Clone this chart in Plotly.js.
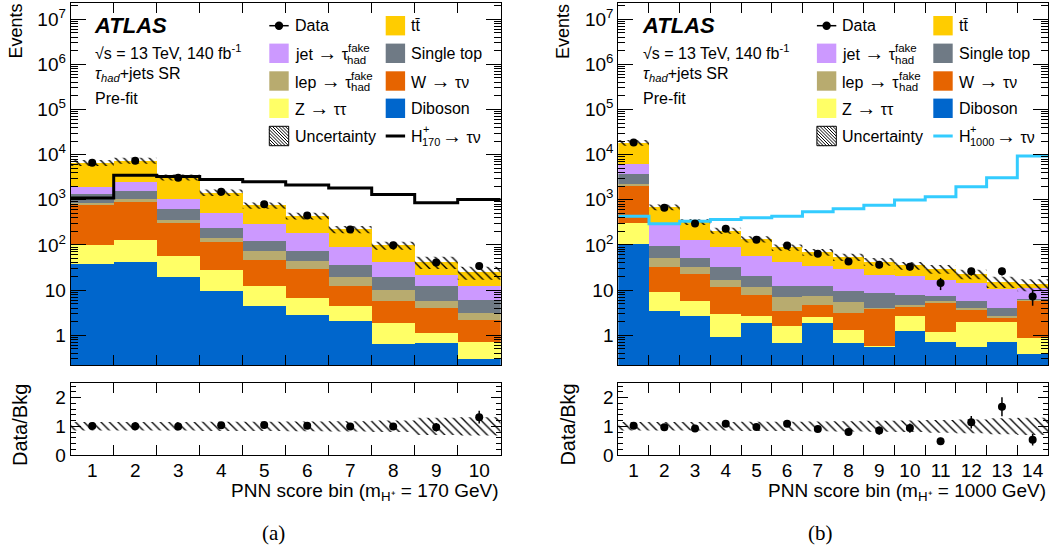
<!DOCTYPE html>
<html><head><meta charset="utf-8">
<script src="https://cdn.plot.ly/plotly-3.0.1.min.js"></script>
<style>body{margin:0;background:#fff}#chart{width:1059px;height:552px}</style>
</head><body><div id="chart"></div>
<script>
// ---------- Panel (a): m_H+ = 170 GeV ----------
const binsA = [1,2,3,4,5,6,7,8,9,10];
const dibosonA = [37.8, 42, 19.1, 9.7, 4.33, 2.83, 2.05, 0.63, 0.675, 0.293];
const zttA     = [64, 89, 39, 18.1, 8.2, 4.0, 2.44, 1.28, 0.44, 0.43];
const wtnA     = [658, 772, 250, 87, 33, 22.4, 8.0, 3.9, 2.87, 1.4];
const lepA     = [70, 114, 51, 31, 26.7, 15.6, 6.9, 4.4, 1.62, 0.96];
const stopA    = [530, 568, 251, 97, 48.7, 28.7, 16.5, 8.9, 6.5, 3.0];
const jetA     = [590, 845, 440, 271, 172, 111, 52.8, 22.8, 9.8, 6.4];
const ttbarA   = [4650, 4970, 2100, 936, 462, 255, 133, 56, 20, 12.5];
const dataA    = [6640, 7360, 3085, 1506, 801, 449, 219, 98, 41, 34];
const dataErrA = [81, 86, 56, 39, 28, 21, 15, 10, 6.4, 5.8];
const signalA  = [1100, 3500, 3300, 2830, 2510, 2120, 1820, 1310, 860, 1020];
const ratioA    = [1.01, 1.0, 0.99, 1.04, 1.05, 1.02, 0.99, 0.99, 0.97, 1.32];
const ratioErrA = [0.013, 0.012, 0.018, 0.027, 0.036, 0.05, 0.07, 0.1, 0.15, 0.22];
const uncA      = [0.15, 0.15, 0.15, 0.16, 0.16, 0.17, 0.18, 0.2, 0.3, 0.32];

// ---------- Panel (b): m_H+ = 1000 GeV ----------
const binsB = [1,2,3,4,5,6,7,8,9,10,11,12,13,14];
const dibosonB = [103, 3.36, 2.6, 0.9, 1.91, 0.66, 1.82, 0.66, 0.56, 1.25, 0.72, 0.54, 0.69, 0.38];
const zttB     = [211, 5.5, 3.0, 2.0, 0.78, 0.9, 0.75, 0.65, 0.02, 1.35, 0.48, 1.47, 1.32, 0.48];
const wtnB     = [1740, 23, 17.1, 8.8, 5.2, 1.8, 2.1, 1.77, 3.2, 1.6, 3.94, 1.65, 0.38, 4.9];
const lepB     = [225, 18.7, 9.2, 5.3, 3.8, 3.5, 2.9, 2.5, 0.2, 0.53, 0.46, 0.32, 0.21, 0.15];
const stopB    = [1540, 42.8, 20.4, 14.9, 9.1, 5.6, 4.5, 4.2, 4.6, 3.15, 1.9, 1.62, 1.38, 0.3];
const jetB     = [2250, 200, 79, 58.4, 37.2, 30.1, 22.6, 19.5, 13.3, 12.2, 9.5, 8.7, 6.5, 5.1];
const ttbarB   = [12400, 395, 193, 118, 76, 46, 35, 24.7, 21, 15, 12.5, 8.5, 5, 2.1];
const dataB    = [18500, 664, 298, 227, 131, 97, 64, 43, 36.6, 33, 14.3, 26, 26, 7.2];
const dataErrB = [136, 26, 17, 15, 11.4, 9.8, 8, 6.6, 6, 5.7, 4.3, 5.1, 5.1, 2.7];
const signalB  = [433, 293, 336, 365, 398, 433, 541, 631, 761, 984, 1167, 1945, 3084, 9333];
const ratioB    = [1.02, 0.965, 0.92, 1.09, 0.98, 1.09, 0.91, 0.8, 0.85, 0.94, 0.48, 1.14, 1.68, 0.53];
const ratioErrB = [0.01, 0.04, 0.05, 0.07, 0.08, 0.11, 0.11, 0.12, 0.14, 0.16, 0.12, 0.22, 0.33, 0.2];
const uncB      = [0.15, 0.15, 0.15, 0.15, 0.16, 0.16, 0.17, 0.18, 0.19, 0.2, 0.22, 0.24, 0.28, 0.3];

// ---------- labels ----------
const yTickVals = [1, 10, 100, 1e3, 1e4, 1e5, 1e6, 1e7];
const yTickText = ['1', '10', '10<sup>2</sup>', '10<sup>3</sup>', '10<sup>4</sup>', '10<sup>5</sup>', '10<sup>6</sup>', '10<sup>7</sup>'];
const ratioTickVals = [0, 1, 2];
const colors = {
  ttbar: '#FFCC00', jet: '#CC99FF', stop: '#6F7A85', lep: '#B8AB6F',
  wtn: '#E66400', ztt: '#FFFF66', diboson: '#0066CC'
};

const FONT = 'Liberation Sans, Arial, Helvetica, sans-serif';
const ARR = "<span style='font-size:20px'>→</span>";
const W = 1059, H = 552;
const px = x => x / W;
const py = y => 1 - y / H;

function stepY(arr) { return arr.concat([arr[arr.length - 1]]); }

const traces = [];
function panel(bins, comps, data, dataErr, signal, sigColor, ratio, ratioErr, unc, xm, ym, xr, yr) {
  const edges = [bins[0] - 0.5].concat(bins.map(b => b + 0.5));
  comps.forEach(c => {
    traces.push({type: 'bar', x: bins, y: c.vals, xaxis: xm, yaxis: ym, width: 1,
      marker: {color: c.color, line: {width: 0}}, hoverinfo: 'skip', showlegend: false});
  });
  const total = bins.map((_, i) => comps.reduce((s, c) => s + c.vals[i], 0));
  const lo = total.map((t, i) => t * (1 - unc[i]));
  const hi = total.map((t, i) => t * (1 + unc[i]));
  const pat = {shape: '\\', fgcolor: '#000', bgcolor: 'rgba(0,0,0,0)', size: 6, solidity: 0.22};
  traces.push({type: 'scatter', mode: 'lines', x: edges, y: stepY(lo), xaxis: xm, yaxis: ym,
    line: {width: 0, shape: 'hv'}, hoverinfo: 'skip', showlegend: false});
  traces.push({type: 'scatter', mode: 'lines', x: edges, y: stepY(hi), xaxis: xm, yaxis: ym,
    line: {width: 0, shape: 'hv'}, fill: 'tonexty', fillcolor: 'rgba(0,0,0,0)', fillpattern: pat,
    hoverinfo: 'skip', showlegend: false});
  traces.push({type: 'scatter', mode: 'lines', x: edges, y: stepY(signal), xaxis: xm, yaxis: ym,
    line: {width: 3, shape: 'hv', color: sigColor}, hoverinfo: 'skip', showlegend: false});
  traces.push({type: 'scatter', mode: 'markers', x: bins, y: data, xaxis: xm, yaxis: ym,
    marker: {color: '#000', size: 8},
    error_y: {type: 'data', array: dataErr, color: '#000', thickness: 1.5, width: 0},
    hoverinfo: 'skip', showlegend: false});
  // ratio panel
  const rlo = unc.map(u => 1 - u), rhi = unc.map(u => 1 + u);
  traces.push({type: 'scatter', mode: 'lines', x: edges, y: stepY(rlo), xaxis: xr, yaxis: yr,
    line: {width: 0, shape: 'hv'}, hoverinfo: 'skip', showlegend: false});
  traces.push({type: 'scatter', mode: 'lines', x: edges, y: stepY(rhi), xaxis: xr, yaxis: yr,
    line: {width: 0, shape: 'hv'}, fill: 'tonexty', fillcolor: 'rgba(0,0,0,0)', fillpattern: pat,
    hoverinfo: 'skip', showlegend: false});
  traces.push({type: 'scatter', mode: 'markers', x: bins, y: ratio, xaxis: xr, yaxis: yr,
    marker: {color: '#000', size: 8},
    error_y: {type: 'data', array: ratioErr, color: '#000', thickness: 1.5, width: 0},
    hoverinfo: 'skip', showlegend: false});
}

function compsOf(d, z, w, l, s, j, t) {
  return [
    {vals: d, color: colors.diboson}, {vals: z, color: colors.ztt}, {vals: w, color: colors.wtn},
    {vals: l, color: colors.lep}, {vals: s, color: colors.stop}, {vals: j, color: colors.jet},
    {vals: t, color: colors.ttbar}
  ];
}

panel(binsA, compsOf(dibosonA, zttA, wtnA, lepA, stopA, jetA, ttbarA), dataA, dataErrA, signalA, '#000000',
      ratioA, ratioErrA, uncA, 'x', 'y', 'x2', 'y2');
panel(binsB, compsOf(dibosonB, zttB, wtnB, lepB, stopB, jetB, ttbarB), dataB, dataErrB, signalB, '#33CCFF',
      ratioB, ratioErrB, uncB, 'x3', 'y3', 'x4', 'y4');

// ---------- axes ----------
const minorLog = [];
for (let d = -1; d <= 7; d++) for (let k = 2; k <= 9; k++) minorLog.push(k * Math.pow(10, d));
const minorRatio = [0.2, 0.4, 0.6, 0.8, 1.2, 1.4, 1.6, 1.8, 2.2, 2.4];

const axBase = {showline: true, linecolor: '#000', linewidth: 1, mirror: 'ticks', ticks: 'inside',
  tickcolor: '#000', tickwidth: 1, showgrid: false, zeroline: false, fixedrange: true,
  tickfont: {family: FONT, size: 19, color: '#000'}};
const mainDom = [py(365), py(3)];
const ratDom = [py(455), py(383.3)];
function xMain(bins, dom, anchor) {
  const inner = bins.slice(0, -1).map(b => b + 0.5);
  return Object.assign({}, axBase, {domain: dom, range: [0.5, bins.length + 0.5], tickvals: inner,
    ticklen: 10, showticklabels: false, anchor: anchor});
}
function xRatio(bins, dom, anchor) {
  const inner = bins.slice(0, -1).map(b => b + 0.5);
  return Object.assign({}, axBase, {domain: dom, range: [0.5, bins.length + 0.5], tickvals: bins,
    ticktext: bins.map(String), ticklen: 0, ticklabelstandoff: -2,
    minor: {tickvals: inner, ticklen: 10, ticks: 'inside', tickcolor: '#000', tickwidth: 1},
    anchor: anchor});
}
function yMain(anchor) {
  return Object.assign({}, axBase, {domain: mainDom, type: 'log', range: [-0.66, 7.36],
    tickvals: yTickVals, ticktext: yTickText, ticklen: 15,
    minor: {tickvals: minorLog, ticklen: 7, ticks: 'inside', tickcolor: '#000', tickwidth: 1},
    anchor: anchor});
}
function yRatio(anchor) {
  return Object.assign({}, axBase, {domain: ratDom, range: [0, 2.5], tickvals: ratioTickVals,
    ticktext: ratioTickVals.map(String), ticklen: 10,
    minor: {tickvals: minorRatio, ticklen: 5, ticks: 'inside', tickcolor: '#000', tickwidth: 1},
    anchor: anchor});
}
const domA = [px(70.7), px(500.7)];
const domB = [px(618.3), px(1048)];

// ---------- legend / text ----------
const annotations = [];
const shapes = [];
function ann(x, y, text, size, extra) {
  annotations.push(Object.assign({xref: 'paper', yref: 'paper', x: px(x), y: py(y), text: text,
    showarrow: false, xanchor: 'left', yanchor: 'middle',
    font: {family: FONT, size: size, color: '#000'}}, extra || {}));
}
function rect(x0, y0, x1, y1, fill, lineW) {
  shapes.push({type: 'rect', xref: 'paper', yref: 'paper', x0: px(x0), x1: px(x1), y0: py(y1), y1: py(y0),
    fillcolor: fill, line: {width: lineW || 0, color: '#000'}});
}
function lineSh(x0, y0, x1, y1, color, w) {
  shapes.push({type: 'line', xref: 'paper', yref: 'paper', x0: px(x0), x1: px(x1), y0: py(y0), y1: py(y1),
    line: {color: color, width: w}});
}

function decorate(dx, sigLabel, sigColor, arrowX, caption, xTitle) {
  // axis titles
  ann(15 + dx, 2, 'Events', 18, {textangle: -90, xanchor: 'center', yanchor: 'top'});
  ann(20 + dx, 425, 'Data/Bkg', 20, {textangle: -90, xanchor: 'center', yanchor: 'middle'});
  ann(500.7 + dx, 492, xTitle, 19, {xanchor: 'right'});
  ann(273 + dx, 533, caption, 21, {xanchor: 'center', font: {family: 'Liberation Serif, Times New Roman, serif', size: 21, color: '#000'}});
  // ATLAS block
  ann(92 + dx, 25.7, '<b><i>ATLAS</i></b>', 22);
  ann(93 + dx, 51.7, '√s = 13 TeV, 140 fb<sup>-1</sup>', 16);
  ann(93 + dx, 74, '<i>τ</i><sub><i>had</i></sub>+jets SR', 16);
  ann(93 + dx, 98.3, 'Pre-fit', 16);
  // legend column 1
  const c1 = 269.3 + dx, c2 = 385.7 + dx, sw = 19.4, t1 = 292.7 + dx, t2 = 409 + dx;
  const rows = [25.7, 53.3, 81, 108.3, 136];
  lineSh(c1, rows[0], c1 + sw, rows[0], '#000', 1.5);
  shapes.push({type: 'circle', xref: 'paper', yref: 'paper', x0: px(c1 + sw / 2 - 4.2), x1: px(c1 + sw / 2 + 4.2),
    y0: py(rows[0] + 4.2), y1: py(rows[0] - 4.2), fillcolor: '#000', line: {width: 0}});
  ann(t1, rows[0], 'Data', 16);
  rect(c1, rows[1] - sw / 2, c1 + sw, rows[1] + sw / 2, colors.jet);
  ann(t1, rows[1], 'jet ' + ARR + ' τ', 16);
  ann(t1 + 53, rows[1] - 5.5, 'fake', 11.5);
  ann(t1 + 52.5, rows[1] + 6.5, 'had', 11.5);
  rect(c1, rows[2] - sw / 2, c1 + sw, rows[2] + sw / 2, colors.lep);
  ann(t1, rows[2], 'lep ' + ARR + ' τ', 16);
  ann(t1 + 56.5, rows[2] - 5.5, 'fake', 11.5);
  ann(t1 + 56.5, rows[2] + 6.5, 'had', 11.5);
  rect(c1, rows[3] - sw / 2, c1 + sw, rows[3] + sw / 2, colors.ztt);
  ann(t1, rows[3], 'Z ' + ARR + ' ττ', 16);
  // uncertainty swatch with hatch
  const y0 = rows[4] - sw / 2;
  rect(c1, y0, c1 + sw, y0 + sw, '#fff', 1);
  let path = '';
  for (let k = -sw + 3.2; k < sw; k += 3.2) {
    const tA = Math.max(0, -k), tB = Math.min(sw, sw - k);
    path += 'M' + px(c1 + k + tA) + ',' + py(y0 + tA) + 'L' + px(c1 + k + tB) + ',' + py(y0 + tB);
  }
  shapes.push({type: 'path', xref: 'paper', yref: 'paper', path: path, line: {color: '#000', width: 1}});
  ann(t1, rows[4], 'Uncertainty', 16);
  // legend column 2
  rect(c2, rows[0] - sw / 2, c2 + sw, rows[0] + sw / 2, colors.ttbar);
  ann(t2, rows[0], 'tt̄', 16);
  rect(c2, rows[1] - sw / 2, c2 + sw, rows[1] + sw / 2, colors.stop);
  ann(t2, rows[1], 'Single top', 16);
  rect(c2, rows[2] - sw / 2, c2 + sw, rows[2] + sw / 2, colors.wtn);
  ann(t2, rows[2], 'W ' + ARR + ' τν', 16);
  rect(c2, rows[3] - sw / 2, c2 + sw, rows[3] + sw / 2, colors.diboson);
  ann(t2, rows[3], 'Diboson', 16);
  lineSh(c2, rows[4], c2 + sw, rows[4], sigColor, 3);
  ann(t2, rows[4], 'H', 16);
  ann(t2 + 11.5, rows[4] - 7.5, '+', 11);
  ann(t2 + 11.2, rows[4] + 6, sigLabel, 11);
  ann(arrowX + dx, rows[4], ARR + ' τν', 16);
}
decorate(0, '170', '#000000', 440, '(a)', 'PNN score bin (m<sub>H⁺</sub> = 170 GeV)');
decorate(547.6, '1000', '#33CCFF', 446.5, '(b)', 'PNN score bin (m<sub>H⁺</sub> = 1000 GeV)');

const layout = {
  width: W, height: H, margin: {l: 0, r: 0, t: 0, b: 0},
  paper_bgcolor: '#fff', plot_bgcolor: 'rgba(0,0,0,0)',
  barmode: 'stack', bargap: 0, showlegend: false,
  font: {family: FONT, color: '#000'},
  xaxis: xMain(binsA, domA, 'y'), yaxis: yMain('x'),
  xaxis2: xRatio(binsA, domA, 'y2'), yaxis2: yRatio('x2'),
  xaxis3: xMain(binsB, domB, 'y3'), yaxis3: yMain('x3'),
  xaxis4: xRatio(binsB, domB, 'y4'), yaxis4: yRatio('x4'),
  annotations: annotations, shapes: shapes
};
Plotly.newPlot('chart', traces, layout, {staticPlot: true, displayModeBar: false});
</script>
</body></html>
